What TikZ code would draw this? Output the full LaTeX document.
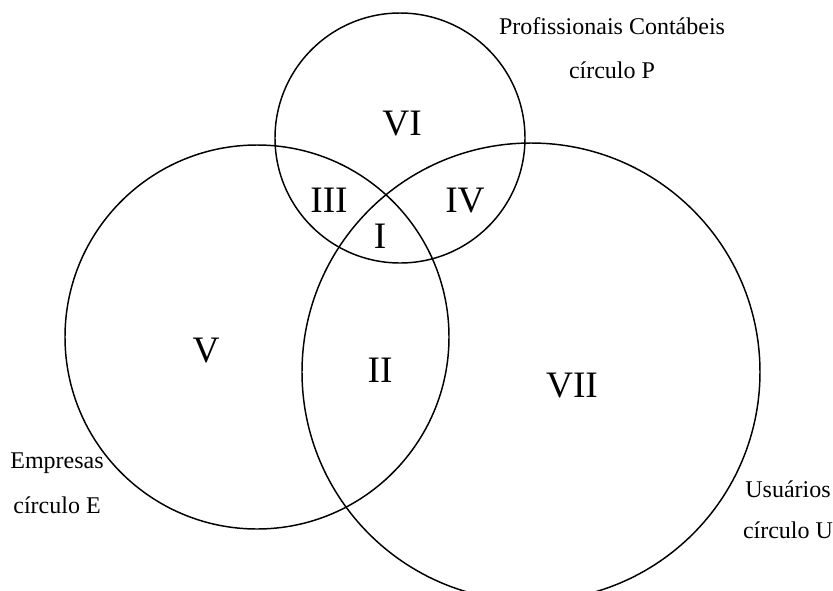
\documentclass[tikz,border=0pt]{standalone}
\usepackage{fontspec}
\setmainfont{Liberation Serif}
\usetikzlibrary{positioning}

\begin{document}
\begin{tikzpicture} [x=0.75pt,y=-0.75pt,line width=1.1pt,
    label/.style={anchor=base,inner sep=0pt,font=\fontsize{18}{18}\selectfont},
    region/.style={anchor=base,inner sep=0pt,font=\fontsize{28}{28}\selectfont}]
    \useasboundingbox (0,0) rectangle (833,590);
    \clip (0,0) rectangle (833,590);
    % circles E, P, U
    \draw (257,337) circle (192);
    \draw (400,138) circle (125);
    \draw (531,372) circle (229);
    % circle captions
    \node[label] (prof)  at (612,34)  {Profissionais Contábeis};
    \node[label] (circP) at (612,78)  {círculo P};
    \node[label] (emp)   at (57,468)  {Empresas};
    \node[label] (circE) at (57,513)  {círculo E};
    \node[label] (usu)   at (788,497) {Usuários};
    \node[label] (circU) at (788,538) {círculo U};
    % regions
    \node[region] (r1) at (380,248) {I};
    \node[region] (r2) at (380,382) {II};
    \node[region] (r3) at (329,212) {III};
    \node[region] (r4) at (465,212) {IV};
    \node[region] (r5) at (206,362) {V};
    \node[region] (r6) at (402,135) {VI};
    \node[region] (r7) at (572,397) {VII};
\end{tikzpicture}
\end{document}
